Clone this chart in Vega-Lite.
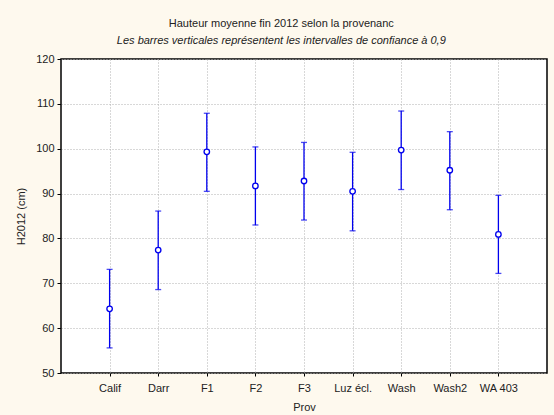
{
  "$schema": "https://vega.github.io/schema/vega-lite/v6.json",
  "autosize": {"type": "none"},
  "width": 486,
  "height": 314,
  "padding": {"left": 61, "top": 59, "right": 7, "bottom": 42},
  "background": "#FEF9EE",
  "config": {
    "font": "Liberation Sans",
    "view": {"fill": "white", "stroke": "black", "strokeWidth": 1.5},
    "axis": {
      "labelFont": "Liberation Sans",
      "titleFont": "Liberation Sans",
      "labelFontSize": 11,
      "titleFontSize": 11,
      "labelColor": "#222",
      "titleColor": "#222",
      "titleFontWeight": "normal",
      "domain": false,
      "gridColor": "#b0b0b0",
      "gridDash": [1, 2],
      "gridWidth": 1,
      "tickColor": "black"
    }
  },
  "title": {
    "text": "Hauteur moyenne fin 2012 selon la provenanc",
    "subtitle": "Les barres verticales représentent les intervalles de confiance à 0,9",
    "anchor": "middle",
    "frame": "bounds",
    "font": "Liberation Sans",
    "fontSize": 11,
    "fontWeight": "normal",
    "color": "#222",
    "subtitleFont": "Liberation Sans",
    "subtitleFontSize": 11,
    "subtitleFontStyle": "italic",
    "subtitleColor": "#222",
    "subtitlePadding": 6,
    "offset": 7
  },
  "data": {
    "values": [
      {"Prov": "Calif", "mean": 64.3, "low": 55.6, "high": 73.1},
      {"Prov": "Darr", "mean": 77.4, "low": 68.6, "high": 86.1},
      {"Prov": "F1", "mean": 99.3, "low": 90.5, "high": 107.9},
      {"Prov": "F2", "mean": 91.7, "low": 83.0, "high": 100.4},
      {"Prov": "F3", "mean": 92.8, "low": 84.1, "high": 101.4},
      {"Prov": "Luz écl.", "mean": 90.5, "low": 81.7, "high": 99.2},
      {"Prov": "Wash", "mean": 99.7, "low": 90.9, "high": 108.4},
      {"Prov": "Wash2", "mean": 95.2, "low": 86.4, "high": 103.8},
      {"Prov": "WA 403", "mean": 80.9, "low": 72.2, "high": 89.6}
    ]
  },
  "encoding": {
    "x": {
      "field": "Prov",
      "type": "nominal",
      "sort": null,
      "scale": {"type": "point", "padding": 1},
      "axis": {"title": "Prov", "labelAngle": 0, "labelPadding": 6, "tickSize": 3, "titlePadding": 8, "grid": true}
    }
  },
  "layer": [
    {
      "mark": {"type": "rule", "color": "#0000EE", "strokeWidth": 1.3},
      "encoding": {
        "y": {
          "field": "low",
          "type": "quantitative",
          "scale": {"domain": [50, 120], "nice": false, "zero": false},
          "axis": {"title": "H2012 (cm)", "values": [50, 60, 70, 80, 90, 100, 110, 120], "tickSize": 4, "labelPadding": 3, "titlePadding": 9, "grid": true}
        },
        "y2": {"field": "high"}
      }
    },
    {
      "mark": {"type": "tick", "orient": "horizontal", "color": "#0000EE", "size": 6, "thickness": 1.3},
      "encoding": {"y": {"field": "low", "type": "quantitative"}}
    },
    {
      "mark": {"type": "tick", "orient": "horizontal", "color": "#0000EE", "size": 6, "thickness": 1.3},
      "encoding": {"y": {"field": "high", "type": "quantitative"}}
    },
    {
      "mark": {"type": "point", "shape": "circle", "filled": true, "fill": "white", "stroke": "#0000EE", "strokeWidth": 1.3, "size": 30, "opacity": 1},
      "encoding": {"y": {"field": "mean", "type": "quantitative"}}
    }
  ]
}
